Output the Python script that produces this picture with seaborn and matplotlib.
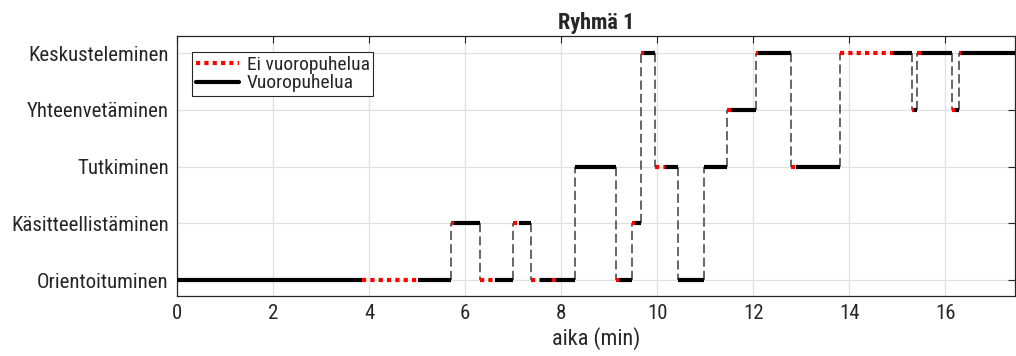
import matplotlib
matplotlib.use("Agg")
import matplotlib.pyplot as plt
import pandas as pd
import seaborn as sns
from matplotlib.lines import Line2D

levels = ["Orientoituminen", "Käsitteellistäminen", "Tutkiminen", "Yhteenvetäminen", "Keskusteleminen"]

# horizontal pieces: start, end (min), level index (1..5), dialogue (1 = Vuoropuhelua, 0 = Ei)
piece_start = [0.00, 3.85, 5.02, 5.71, 5.77, 6.31, 6.62, 6.99, 7.12, 7.37, 7.55, 7.80, 7.90,
               8.29, 9.14, 9.20, 9.48, 9.53, 9.66, 9.72, 9.96, 10.17, 10.43, 10.98, 11.45, 11.54,
               12.06, 12.10, 12.78, 12.88, 13.80, 14.92, 15.30, 15.34, 15.40, 15.49, 16.14, 16.21,
               16.28, 16.33]
piece_end = [3.85, 5.02, 5.71, 5.77, 6.31, 6.62, 6.99, 7.12, 7.37, 7.55, 7.80, 7.90, 8.29,
             9.14, 9.20, 9.48, 9.53, 9.66, 9.72, 9.96, 10.17, 10.43, 10.98, 11.45, 11.54, 12.06,
             12.10, 12.78, 12.88, 13.80, 14.92, 15.30, 15.34, 15.40, 15.49, 16.14, 16.21, 16.28,
             16.33, 17.45]
piece_level = [1, 1, 1, 2, 2, 1, 1, 2, 2, 1, 1, 1, 1,
               3, 1, 1, 2, 2, 5, 5, 3, 3, 1, 3, 4, 4,
               5, 5, 3, 3, 5, 5, 4, 4, 5, 5, 4, 4,
               5, 5]
piece_talk = [1, 0, 1, 0, 1, 0, 1, 0, 1, 0, 1, 0, 1,
              1, 0, 1, 0, 1, 0, 1, 0, 1, 1, 1, 0, 1,
              0, 1, 0, 1, 0, 1, 0, 1, 0, 1, 0, 1,
              0, 1]

rows = []
for i in range(len(piece_start)):
    lab = "Vuoropuhelua" if piece_talk[i] else "Ei vuoropuhelua"
    rows.append({"aika": piece_start[i], "taso": piece_level[i], "tyyppi": lab, "osa": i})
    rows.append({"aika": piece_end[i], "taso": piece_level[i], "tyyppi": lab, "osa": i})
df = pd.DataFrame(rows)

sns.set_style("whitegrid")
plt.rcParams["font.family"] = ["Roboto Condensed", "DejaVu Sans"]
plt.rcParams["xtick.direction"] = "in"
plt.rcParams["ytick.direction"] = "in"

fig = plt.figure(figsize=(10.16, 3.56), dpi=100)
ax = fig.add_axes([0.1742, 0.1685, 0.8248, 0.7303])

# dashed transitions between levels
for i in range(1, len(piece_start)):
    if piece_level[i] != piece_level[i - 1]:
        ax.plot([piece_start[i], piece_start[i]], [piece_level[i - 1], piece_level[i]],
                color="0.3", lw=1.2, dashes=(5.5, 2.5), zorder=2)

sns.lineplot(data=df, x="aika", y="taso", hue="tyyppi", style="tyyppi", units="osa",
             estimator=None, sort=False, ax=ax, legend=False,
             palette={"Vuoropuhelua": "black", "Ei vuoropuhelua": "red"},
             dashes={"Vuoropuhelua": "", "Ei vuoropuhelua": (1, 1)}, zorder=3)
for ln in ax.lines:
    if ln.get_color() in ("black", "red"):
        ln.set_linewidth(3)
        ln.set_solid_capstyle("butt")
        ln.set_dash_capstyle("butt")

ax.set_xlim(0, 17.45)
ax.set_ylim(0.72, 5.3)
ax.set_yticks(range(1, 6))
ax.set_yticklabels(levels)
ax.set_xticks(range(0, 17, 2))
ax.tick_params(axis="both", labelsize=15, colors="0.15", length=5, width=0.8,
               top=True, right=True, pad=6)
ax.grid(True, color="0.88", lw=0.9)
for s in ax.spines.values():
    s.set_color("0.15")
    s.set_linewidth(0.9)
ax.set_xlabel("aika (min)", fontsize=16, color="0.15", labelpad=3)
ax.set_ylabel("")
ax.set_title("Ryhmä 1", fontsize=16, fontweight="bold", pad=5)

handles = [Line2D([], [], color="red", lw=3, dashes=(1, 1)),
           Line2D([], [], color="black", lw=3)]
leg = ax.legend(handles, ["Ei vuoropuhelua", "Vuoropuhelua"], loc="upper left",
                bbox_to_anchor=(0.018, 0.94), fontsize=14, frameon=True, fancybox=False,
                framealpha=1, edgecolor="0.15", borderpad=0.2, handlelength=2.2,
                handletextpad=0.4, labelspacing=0.05, borderaxespad=0)
leg.get_frame().set_linewidth(0.8)

fig.savefig("out.png", dpi=100)
